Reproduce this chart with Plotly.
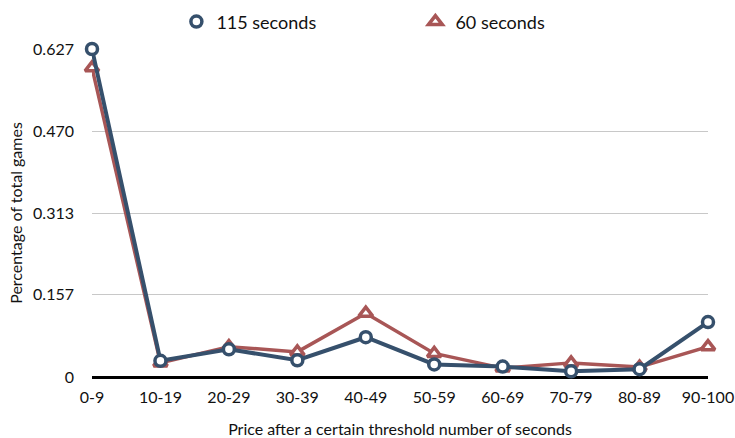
import plotly.graph_objects as go

categories = ["0-9", "10-19", "20-29", "30-39", "40-49", "50-59", "60-69", "70-79", "80-89", "90-100"]
s115 = [0.627, 0.031, 0.053, 0.032, 0.076, 0.024, 0.020, 0.011, 0.015, 0.105]
s60 = [0.591, 0.027, 0.058, 0.048, 0.122, 0.045, 0.017, 0.027, 0.019, 0.058]
ytick_vals = [0, 0.157, 0.313, 0.470, 0.627]
ytick_text = ["0", "0.157", "0.313", "0.470", "0.627"]

BLUE = "#36506c"
RED = "#a85656"
FONT = "Lato, 'Open Sans', sans-serif"

xs = list(range(len(categories)))
red_marker = dict(symbol="triangle-up", size=12, color="white", line=dict(color=RED, width=3.5))
blue_marker = dict(symbol="circle", size=11, color="white", line=dict(color=BLUE, width=3.5))

fig = go.Figure()
fig.add_trace(go.Scatter(
    x=xs, y=s60, name="60 seconds", mode="lines+markers",
    line=dict(color=RED, width=3.5), marker=red_marker,
    cliponaxis=False, showlegend=False,
))
fig.add_trace(go.Scatter(
    x=xs, y=s115, name="115 seconds", mode="lines+markers",
    line=dict(color=BLUE, width=4), marker=blue_marker,
    cliponaxis=False, showlegend=False,
))
# legend entries (markers only, as in the reference)
fig.add_trace(go.Scatter(x=[None], y=[None], name="115 seconds", mode="markers",
                         marker=blue_marker, showlegend=True))
fig.add_trace(go.Scatter(x=[None], y=[None], name="60 seconds", mode="markers",
                         marker=red_marker, showlegend=True))

fig.update_layout(
    width=735, height=438,
    margin=dict(l=92, r=27, t=49, b=61, autoexpand=False),
    paper_bgcolor="white", plot_bgcolor="white",
    font=dict(family=FONT, size=16, color="#111111"),
    showlegend=True,
    legend=dict(orientation="h", x=0.137, xanchor="left", y=0.95, yref="container",
                yanchor="middle", font=dict(size=18),
                entrywidth=194, entrywidthmode="pixels", bgcolor="rgba(0,0,0,0)"),
    xaxis=dict(
        range=[0, 9], tickmode="array", tickvals=xs,
        ticktext=categories, showgrid=False, zeroline=False,
        showline=False, ticks="", tickfont=dict(size=16), ticklabelstandoff=9,
        ticklabeloverflow="allow",
        title=dict(text="Price after a certain threshold number of seconds", font=dict(size=16), standoff=18),
    ),
    yaxis=dict(
        range=[0, 0.627], tickmode="array", tickvals=ytick_vals, ticktext=ytick_text,
        showgrid=True, gridcolor="#c8c8c8", gridwidth=1, zeroline=True,
        zerolinecolor="black", zerolinewidth=3, showline=False, ticks="",
        tickfont=dict(size=16), ticklabelstandoff=17,
        title=dict(text="Percentage of total games", font=dict(size=16), standoff=6),
    ),
)

# remove the page's default body margin so the figure fills the window exactly
fig.write_html(
    "out.html",
    config={"displayModeBar": False},
    post_script="document.body.style.margin='0';document.documentElement.style.overflow='hidden';",
)
